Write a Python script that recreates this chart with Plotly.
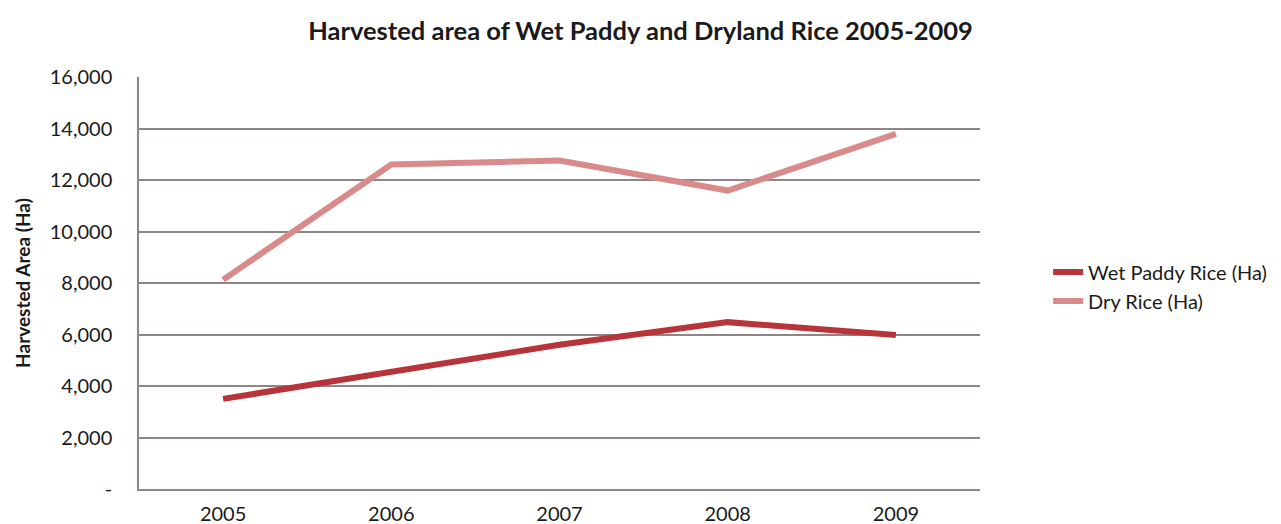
import plotly.graph_objects as go

years = ["2005", "2006", "2007", "2008", "2009"]
wet_paddy = [3500, 4550, 5600, 6480, 5980]
dry_rice = [8130, 12600, 12760, 11590, 13790]
y_ticks = [0, 2000, 4000, 6000, 8000, 10000, 12000, 14000, 16000]
y_tick_text = ["-", "2,000", "4,000", "6,000", "8,000", "10,000", "12,000", "14,000", "16,000"]

FONT = "Lato, 'Open Sans', sans-serif"
GRID = "#8f8585"

fig = go.Figure()
fig.add_trace(go.Scatter(x=years, y=wet_paddy, mode="lines", name="Wet Paddy Rice (Ha)",
                         line=dict(color="#b8343b", width=6)))
fig.add_trace(go.Scatter(x=years, y=dry_rice, mode="lines", name="Dry Rice (Ha)",
                         line=dict(color="#d98b8b", width=6)))

fig.update_layout(
    width=1281, height=524,
    margin=dict(l=139, r=301, t=77, b=35, autoexpand=False),
    paper_bgcolor="white", plot_bgcolor="white",
    font=dict(family=FONT, color="#1a1a1a", size=20),
    title=dict(text="<b>Harvested area of Wet Paddy and Dryland Rice 2005-2009</b>",
               x=0.5, xref="container", xanchor="center", y=0.94, yanchor="middle",
               font=dict(family=FONT, size=25.5, color="#1a1a1a")),
    showlegend=True,
    legend=dict(x=1.081, xanchor="left", y=0.4915, yanchor="middle",
                font=dict(family=FONT, size=20, color="#1a1a1a"),
                bgcolor="rgba(0,0,0,0)", tracegroupgap=0),
)
fig.update_xaxes(showgrid=False, showline=True, linecolor=GRID, linewidth=1.5,
                 ticks="", tickfont=dict(size=20), range=[-0.5, 4.5],
                 ticklabelstandoff=6, automargin=False)
fig.update_yaxes(range=[0, 16000], tickvals=y_ticks, ticktext=y_tick_text,
                 showgrid=True, gridcolor=GRID, gridwidth=1.5,
                 showline=True, linecolor=GRID, linewidth=1.5, zeroline=False,
                 ticks="", ticklabelstandoff=21, tickfont=dict(size=20), automargin=False,
                 title=dict(text="<b>Harvested Area (Ha)</b>", font=dict(size=19), standoff=14))

fig.write_html("out.html")
